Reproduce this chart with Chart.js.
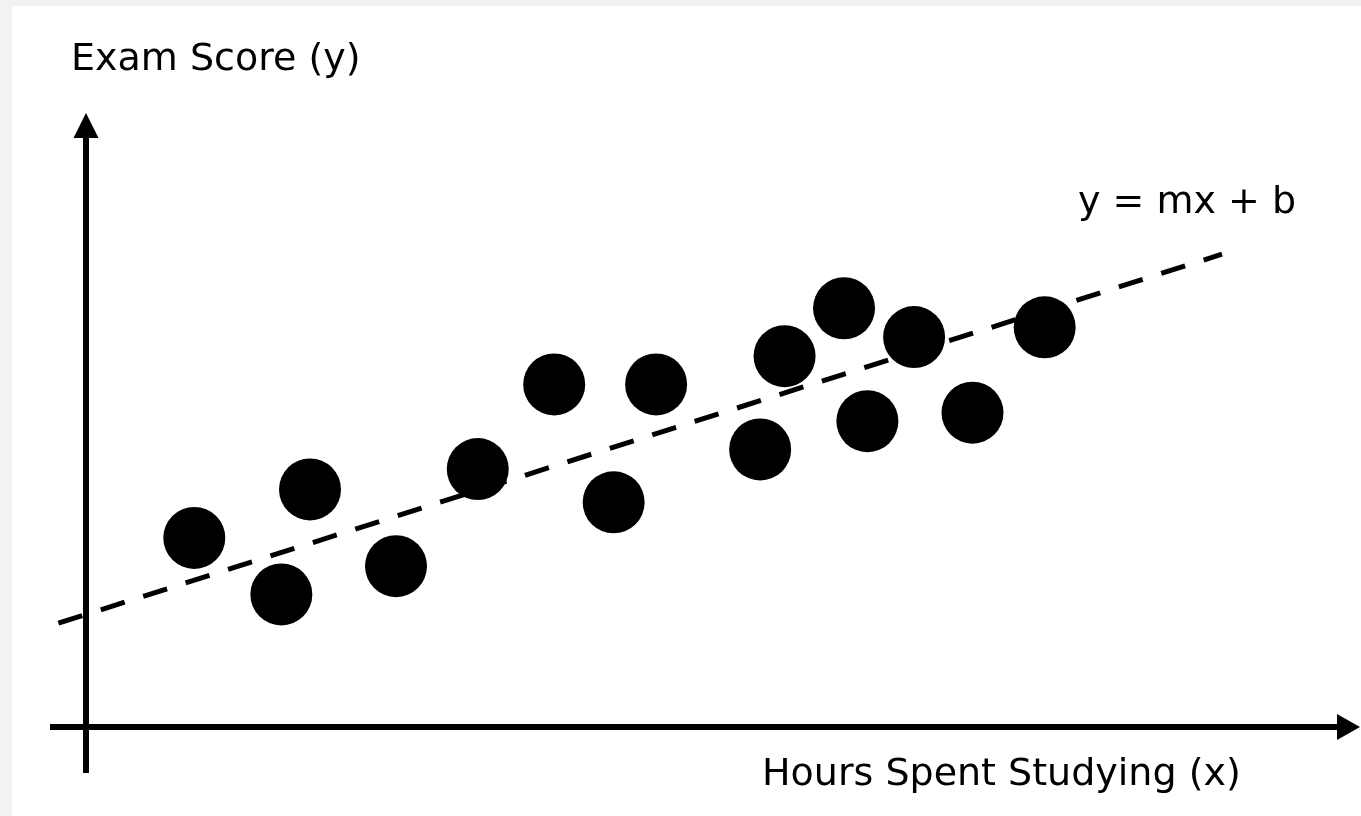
<!DOCTYPE html>
<html>
<head>
<meta charset="utf-8">
<title>Exam Score vs Hours Spent Studying</title>
<script src="https://cdn.jsdelivr.net/npm/chart.js@4.4.1/dist/chart.umd.min.js"></script>
<style>
  html, body { margin: 0; padding: 0; overflow: hidden; background: #f2f2f2; }
  canvas { display: block; }
</style>
</head>
<body>
<canvas id="chart" width="1361" height="816"></canvas>
<script>
// hours studied (x) and exam score (y)
const hours = [1.02, 1.84, 2.11, 2.92, 3.69, 4.41, 4.97, 5.37, 6.35, 6.58, 7.14, 7.36, 7.80, 8.35, 9.03];
const scores = [30.8, 21.6, 38.7, 26.2, 42.0, 55.8, 36.6, 55.8, 45.2, 60.4, 68.2, 49.8, 63.5, 51.2, 65.1];

// ends of the fitted line y = mx + b
const fitX = [-0.26, 10.70];
const fitY = [16.9, 77.0];

const xLabel = 'Hours Spent Studying (x)';
const yLabel = 'Exam Score (y)';
const fitLabel = 'y = mx + b';

const toPoints = (xs, ys) => xs.map((x, i) => ({ x, y: ys[i] }));

// grey frame with a white sheet, like the screenshot
const background = {
  id: 'sheetBackground',
  beforeDraw: (chart) => {
    const { ctx, width, height } = chart;
    ctx.save();
    ctx.fillStyle = '#f2f2f2';
    ctx.fillRect(0, 0, width, height);
    ctx.fillStyle = '#ffffff';
    ctx.fillRect(12, 6, width - 12, height - 6);
    ctx.restore();
  },
};

// arrow axes crossing at the origin
const arrowAxes = {
  id: 'arrowAxes',
  beforeDatasetsDraw: (chart) => {
    const { ctx, chartArea, scales } = chart;
    const ox = scales.x.getPixelForValue(0);
    const oy = scales.y.getPixelForValue(0);
    ctx.save();
    ctx.strokeStyle = '#000';
    ctx.fillStyle = '#000';
    ctx.lineWidth = 6;
    ctx.lineCap = 'butt';

    // y axis
    ctx.beginPath();
    ctx.moveTo(ox, oy + 46);
    ctx.lineTo(ox, chartArea.top + 22);
    ctx.stroke();
    ctx.beginPath();
    ctx.moveTo(ox, chartArea.top);
    ctx.lineTo(ox - 12.5, chartArea.top + 25);
    ctx.lineTo(ox + 12.5, chartArea.top + 25);
    ctx.closePath();
    ctx.fill();

    // x axis
    ctx.beginPath();
    ctx.moveTo(ox - 36, oy);
    ctx.lineTo(chartArea.right - 20, oy);
    ctx.stroke();
    ctx.beginPath();
    ctx.moveTo(chartArea.right, oy);
    ctx.lineTo(chartArea.right - 23, oy - 13);
    ctx.lineTo(chartArea.right - 23, oy + 13);
    ctx.closePath();
    ctx.fill();
    ctx.restore();
  },
};

// the three labels
const labels = {
  id: 'labels',
  afterDraw: (chart) => {
    const { ctx } = chart;
    ctx.save();
    ctx.font = '38px "DejaVu Sans", Verdana, sans-serif';
    ctx.fillStyle = '#000';
    ctx.textAlign = 'left';
    ctx.textBaseline = 'alphabetic';
    ctx.fillText(yLabel, 71, 70);
    ctx.fillText(fitLabel, 1078, 213);
    ctx.fillText(xLabel, 762, 785);
    ctx.restore();
  },
};

const ctx = document.getElementById('chart').getContext('2d');
new Chart(ctx, {
  type: 'scatter',
  data: {
    datasets: [
      {
        label: 'Students',
        data: toPoints(hours, scores),
        backgroundColor: '#000',
        borderWidth: 0,
        pointRadius: 31,
        pointHoverRadius: 31,
        order: 0,
      },
      {
        label: fitLabel,
        data: toPoints(fitX, fitY),
        showLine: true,
        borderColor: '#000',
        borderWidth: 5,
        borderDash: [25, 19.5],
        borderCapStyle: 'butt',
        pointRadius: 0,
        fill: false,
        clip: false,
        order: 1,
      },
    ],
  },
  options: {
    responsive: false,
    devicePixelRatio: 1,
    animation: false,
    events: [],
    layout: {
      autoPadding: false,
      padding: { left: 86, right: 1, top: 113, bottom: 89 },
    },
    scales: {
      x: { type: 'linear', min: 0, max: 12, display: false },
      y: { type: 'linear', min: 0, max: 100, display: false },
    },
    plugins: {
      legend: { display: false },
      tooltip: { enabled: false },
    },
  },
  plugins: [background, arrowAxes, labels],
});
</script>
</body>
</html>
